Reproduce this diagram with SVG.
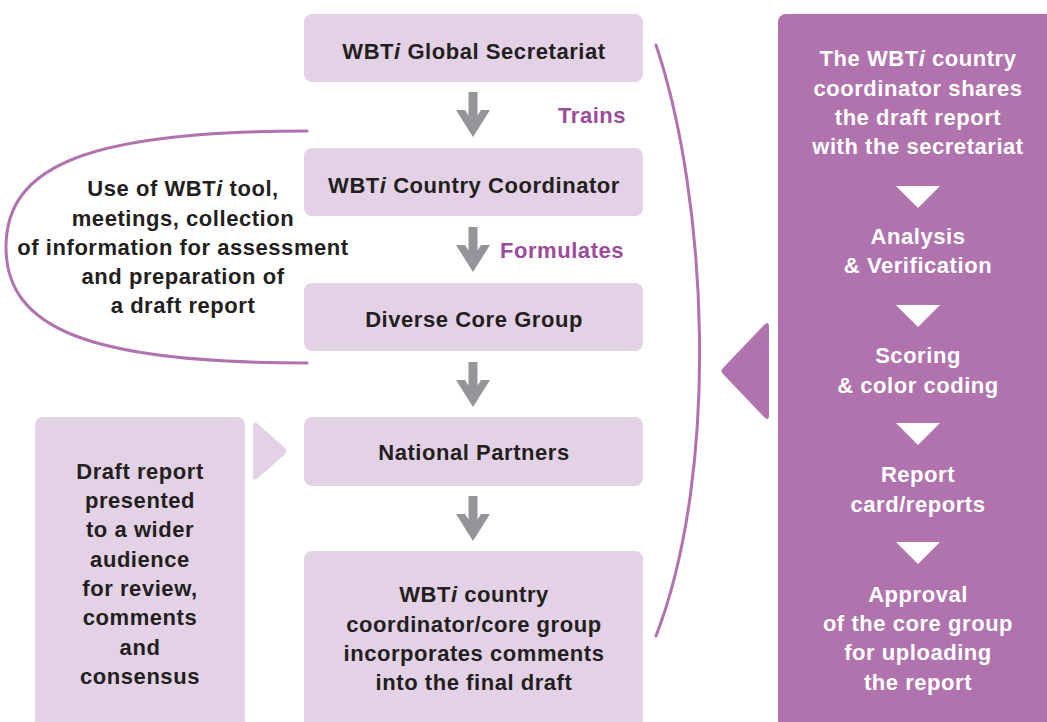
<svg xmlns="http://www.w3.org/2000/svg" width="1047" height="722" viewBox="0 0 1047 722">
  <style>
    .box { fill: #e3d2e6; }
    .panel { fill: #b073ae; }
    .t { font-family: "Liberation Sans", Arial, sans-serif; font-weight: bold; font-size: 22px; letter-spacing: 0.55px; text-anchor: middle; fill: #231f20; }
    .w { fill: #ffffff; }
    .lbl { fill: #9c4b9b; text-anchor: start; }
    .curve { fill: none; stroke: #b073ae; stroke-width: 3; stroke-linecap: round; }
    .down { fill: #939598; }
    .tri { fill: #ffffff; }
    .it { font-style: italic; }
  </style>
  <defs>
    <!-- thick grey down arrow, origin at the top of the shaft -->
    <path id="downArrow" d="M -4.5 0 H 4.5 V 23.6 L 8 18 H 17 L 0 45 L -17 18 H -8 L -4.5 23.6 Z"/>
    <!-- small white step marker inside the right panel -->
    <path id="step" d="M -22 0 H 22 L 0 22 Z"/>
  </defs>

  <!-- connectors -->
  <g id="connectors">
    <use href="#downArrow" class="down" x="473" y="92"/>
    <use href="#downArrow" class="down" x="473" y="227"/>
    <use href="#downArrow" class="down" x="473" y="362"/>
    <use href="#downArrow" class="down" x="473" y="496"/>
    <text class="t lbl" x="558" y="123">Trains</text>
    <text class="t lbl" x="500" y="258">Formulates</text>
    <!-- loop around the coordinator / core group stage -->
    <path class="curve" d="M 307 131 C 90 131 6 165 6 247 C 6 329 90 363 307 363"/>
    <!-- feedback arc on the right -->
    <path class="curve" d="M 656 45 C 708 200 720 470 656 636"/>
    <!-- pointers -->
    <path class="box" d="M 253 426 Q 253 420 258 424 L 284 447 Q 288 451 284 455 L 258 478 Q 253 482 253 476 Z"/>
    <path class="panel" d="M 723 374 Q 720 371 723 368 L 764 325 Q 769 320 769 327 L 769 415 Q 769 422 764 417 Z"/>
  </g>

  <g id="loop-note">
    <text class="t" x="183" y="196">Use of WBT<tspan class="it">i</tspan> tool,</text>
    <text class="t" x="183" y="226">meetings, collection</text>
    <text class="t" x="183" y="255">of information for assessment</text>
    <text class="t" x="183" y="284">and preparation of</text>
    <text class="t" x="183" y="313">a draft report</text>
  </g>

  <g id="global-secretariat">
    <rect class="box" x="304" y="14" width="339" height="68" rx="8"/>
    <text class="t" x="474" y="59">WBT<tspan class="it">i</tspan> Global Secretariat</text>
  </g>

  <g id="country-coordinator">
    <rect class="box" x="304" y="148" width="339" height="68" rx="8"/>
    <text class="t" x="474" y="193">WBT<tspan class="it">i</tspan> Country Coordinator</text>
  </g>

  <g id="core-group">
    <rect class="box" x="304" y="283" width="339" height="68" rx="8"/>
    <text class="t" x="474" y="327">Diverse Core Group</text>
  </g>

  <g id="national-partners">
    <rect class="box" x="304" y="417" width="339" height="69" rx="8"/>
    <text class="t" x="474" y="460">National Partners</text>
  </g>

  <g id="final-draft">
    <rect class="box" x="304" y="551" width="339" height="190" rx="8"/>
    <text class="t" x="474" y="602">WBT<tspan class="it">i</tspan> country</text>
    <text class="t" x="474" y="632">coordinator/core group</text>
    <text class="t" x="474" y="661">incorporates comments</text>
    <text class="t" x="474" y="690">into the final draft</text>
  </g>

  <g id="wider-audience">
    <rect class="box" x="35" y="417" width="210" height="324" rx="8"/>
    <text class="t" x="140" y="479">Draft report</text>
    <text class="t" x="140" y="508">presented</text>
    <text class="t" x="140" y="537">to a wider</text>
    <text class="t" x="140" y="567">audience</text>
    <text class="t" x="140" y="596">for review,</text>
    <text class="t" x="140" y="625">comments</text>
    <text class="t" x="140" y="655">and</text>
    <text class="t" x="140" y="684">consensus</text>
  </g>

  <g id="secretariat-review">
    <rect class="panel" x="778" y="14" width="290" height="730" rx="8"/>
    <text class="t w" x="918" y="66">The WBT<tspan class="it">i</tspan> country</text>
    <text class="t w" x="918" y="96">coordinator shares</text>
    <text class="t w" x="918" y="125">the draft report</text>
    <text class="t w" x="918" y="154">with the secretariat</text>
    <use href="#step" class="tri" x="918" y="186"/>
    <text class="t w" x="918" y="244">Analysis</text>
    <text class="t w" x="918" y="273">&amp; Verification</text>
    <use href="#step" class="tri" x="918" y="305"/>
    <text class="t w" x="918" y="363">Scoring</text>
    <text class="t w" x="918" y="393">&amp; color coding</text>
    <use href="#step" class="tri" x="918" y="423"/>
    <text class="t w" x="918" y="482">Report</text>
    <text class="t w" x="918" y="512">card/reports</text>
    <use href="#step" class="tri" x="918" y="542"/>
    <text class="t w" x="918" y="602">Approval</text>
    <text class="t w" x="918" y="631">of the core group</text>
    <text class="t w" x="918" y="660">for uploading</text>
    <text class="t w" x="918" y="690">the report</text>
  </g>
</svg>
